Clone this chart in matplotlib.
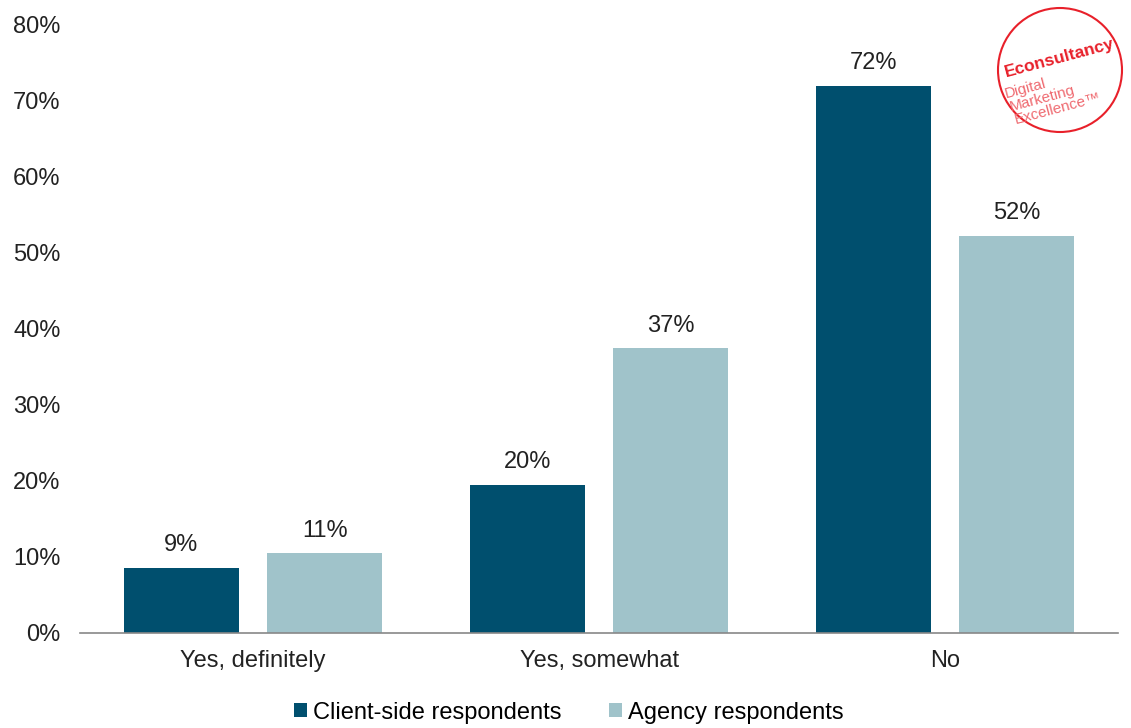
import matplotlib
matplotlib.use("Agg")
from matplotlib import pyplot as plt
from matplotlib.patches import Ellipse
import numpy as np

categories = ["Yes, definitely", "Yes, somewhat", "No"]
client_vals = [8.6, 19.5, 71.9]
agency_vals = [10.5, 37.4, 52.2]
client_labels = ["9%", "20%", "72%"]
agency_labels = ["11%", "37%", "52%"]
series_names = ["Client-side respondents", "Agency respondents"]

plt.rcParams['font.family'] = ['Liberation Sans', 'DejaVu Sans']
FS = 17

fig = plt.figure(figsize=(11.31, 7.28), dpi=100)
ax = fig.add_axes([0.0707, 0.1305, 0.918, 0.8365])

x = np.arange(len(categories))
w = 0.333
off = 0.207
b1 = ax.bar(x - off, client_vals, w, color="#004f6e", label=series_names[0])
b2 = ax.bar(x + off, agency_vals, w, color="#a0c3ca", label=series_names[1])

for rect, lab in zip(b1, client_labels):
    ax.text(rect.get_x() + rect.get_width() / 2, rect.get_height() + 1.5, lab,
            ha="center", va="bottom", fontsize=FS, color="#222222")
for rect, lab in zip(b2, agency_labels):
    ax.text(rect.get_x() + rect.get_width() / 2, rect.get_height() + 1.5, lab,
            ha="center", va="bottom", fontsize=FS, color="#222222")

ax.set_xlim(-0.5, 2.5)
ax.set_ylim(0, 80)
ax.set_yticks(range(0, 81, 10))
ax.set_yticklabels([f"{v}%" for v in range(0, 81, 10)])
ax.set_xticks(x)
ax.set_xticklabels(categories)
ax.tick_params(axis="both", length=0, labelsize=FS, colors="#222222")
ax.tick_params(axis="y", pad=14)
ax.tick_params(axis="x", pad=12)
for s in ["top", "right", "left"]:
    ax.spines[s].set_visible(False)
ax.spines["bottom"].set_color("#888888")
ax.spines["bottom"].set_linewidth(1.2)

fig.legend(handles=[b1, b2], loc="center", bbox_to_anchor=(0.503, 0.021), ncol=2,
           frameon=False, fontsize=FS, handlelength=0.55, handleheight=0.55,
           handletextpad=0.25, columnspacing=2.0)

# logo
lx, ly = 1060 / 1131, 1 - 70 / 728
r = 62
fig.patches.append(Ellipse((lx, ly), 2 * r / 1131, 2 * r / 728, transform=fig.transFigure,
                           fill=False, edgecolor="#e8202a", linewidth=1.5))
fig.text(lx, 1 - 58 / 728, "Econsultancy", transform=fig.transFigure, rotation=15,
         ha="center", va="center", fontsize=12.5, fontweight="bold", color="#e8202a",
         rotation_mode="anchor")
logo_lines = ["Digital", "Marketing", "Excellence\u2122"]
for i, t in enumerate(logo_lines):
    fig.text((1005 + 5 * i) / 1131, 1 - (94 + 13 * i) / 728, t, transform=fig.transFigure,
             rotation=15, ha="left", va="center", fontsize=11, color="#ef6a70",
             rotation_mode="anchor")

fig.savefig("out.png", dpi=100)
